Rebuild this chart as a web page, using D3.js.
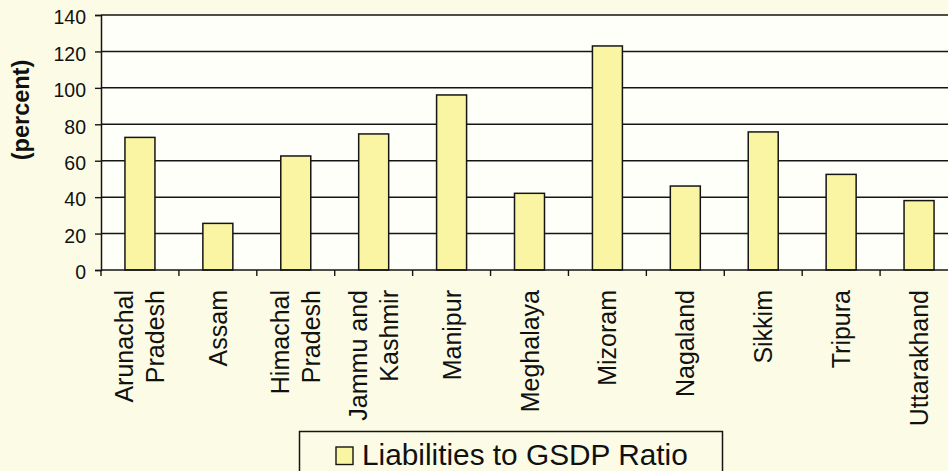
<!DOCTYPE html>
<html>
<head>
<meta charset="utf-8">
<script src="https://cdn.jsdelivr.net/npm/d3@7"></script>
<style>
  html, body { margin: 0; padding: 0; background: #fcfce6; }
  svg { display: block; }
  text { font-family: "Liberation Sans", Arial, sans-serif; fill: #111; }
</style>
</head>
<body>
<svg id="chart" width="948" height="471"></svg>
<script>
const categories = ["Arunachal Pradesh", "Assam", "Himachal Pradesh", "Jammu and Kashmir", "Manipur",
  "Meghalaya", "Mizoram", "Nagaland", "Sikkim", "Tripura", "Uttarakhand"];
const labelLines = [["Arunachal", "Pradesh"], ["Assam"], ["Himachal", "Pradesh"], ["Jammu and", "Kashmir"],
  ["Manipur"], ["Meghalaya"], ["Mizoram"], ["Nagaland"], ["Sikkim"], ["Tripura"], ["Uttarakhand"]];
const values = [72.8, 25.6, 62.6, 74.7, 96.1, 42.1, 123.0, 46.1, 75.8, 52.5, 38.1];
const yTicks = [0, 20, 40, 60, 80, 100, 120, 140];
const yTitle = "(percent)";
const seriesName = "Liabilities to GSDP Ratio";

const svg = d3.select("#chart");
const plot = { left: 101, right: 958, top: 15, bottom: 270 };

const x = d3.scaleBand().domain(categories).range([plot.left, plot.right]).padding(0);
const y = d3.scaleLinear().domain([0, 140]).range([plot.bottom, plot.top]);
const barW = x.step() * 0.385;

// plot background
svg.append("rect")
  .attr("x", plot.left).attr("y", plot.top)
  .attr("width", plot.right - plot.left).attr("height", plot.bottom - plot.top)
  .attr("fill", "#fffff9");

// gridlines
svg.append("g")
  .selectAll("line").data(yTicks.filter(d => d > 0)).join("line")
  .attr("x1", plot.left).attr("x2", plot.right)
  .attr("y1", d => y(d)).attr("y2", d => y(d))
  .attr("stroke", "#151515").attr("stroke-width", 1.5);

// bars
svg.append("g")
  .selectAll("rect").data(values).join("rect")
  .attr("x", (d, i) => x(categories[i]) + (x.step() - barW) / 2)
  .attr("y", d => y(d))
  .attr("width", barW)
  .attr("height", d => y(0) - y(d))
  .attr("fill", "#faf5a2")
  .attr("stroke", "#151515").attr("stroke-width", 1.5);

// y axis
const yAxis = d3.axisLeft(y).tickValues(yTicks).tickSize(6).tickPadding(9).tickFormat(d3.format("d"));
const gy = svg.append("g").attr("transform", `translate(${plot.left},0)`).call(yAxis);
gy.select(".domain").attr("stroke", "#151515").attr("stroke-width", 1.5);
gy.selectAll(".tick line").attr("stroke", "#151515").attr("stroke-width", 1.4);
gy.selectAll(".tick text")
  .attr("font-size", "19.5px").attr("fill", "#111")
  .attr("dy", "0.45em")
  .style("font-family", '"Liberation Sans", Arial, sans-serif');

// x axis (category boundaries ticks)
const gx = svg.append("g").attr("transform", `translate(0,${plot.bottom})`);
gx.append("line").attr("x1", plot.left).attr("x2", plot.right).attr("y1", 0).attr("y2", 0)
  .attr("stroke", "#151515").attr("stroke-width", 1.5);
gx.selectAll("line.tk").data(categories.concat(["__end"])).join("line").attr("class", "tk")
  .attr("x1", (d, i) => plot.left + i * x.step()).attr("x2", (d, i) => plot.left + i * x.step())
  .attr("y1", 0).attr("y2", 6)
  .attr("stroke", "#151515").attr("stroke-width", 1.4);

// category labels (rotated)
const fs = 25, lineGap = 31;
const lab = svg.append("g");
categories.forEach((c, i) => {
  const cx = x(c) + x.step() / 2;
  const lines = labelLines[i];
  const first = lines.length === 1 ? cx + 0.36 * fs : cx - 7;
  lines.forEach((t, j) => {
    lab.append("text")
      .attr("transform", `translate(${first + j * lineGap},290) rotate(-90)`)
      .attr("text-anchor", "end")
      .attr("font-size", fs + "px")
      .text(t);
  });
});

// y title
svg.append("text")
  .attr("transform", `translate(28.5,110) rotate(-90)`)
  .attr("text-anchor", "middle")
  .attr("font-size", "23.5px").attr("font-weight", "bold")
  .text(yTitle);

// legend
const lg = svg.append("g");
lg.append("rect").attr("x", 299.5).attr("y", 431.5).attr("width", 423).attr("height", 60)
  .attr("fill", "#fcfce6").attr("stroke", "#151515").attr("stroke-width", 1.5);
lg.append("rect").attr("x", 336).attr("y", 447).attr("width", 17).attr("height", 17.5)
  .attr("fill", "#faf5a2").attr("stroke", "#151515").attr("stroke-width", 1.4);
lg.append("text").attr("x", 362).attr("y", 464.5).attr("font-size", "29.8px").text(seriesName);
</script>
</body>
</html>
